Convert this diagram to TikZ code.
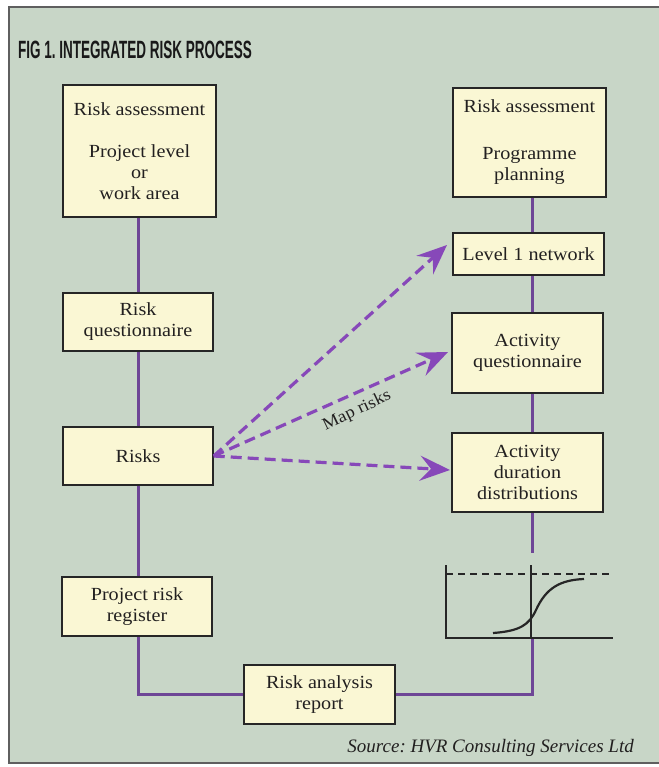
\documentclass[tikz,border=0pt]{standalone}
\usepackage{fontspec}
\setmainfont{Liberation Serif}[FakeStretch=1.09]
\newfontfamily\srcfont{Liberation Serif}
\newfontfamily\titlefont{Liberation Sans}[FakeStretch=0.54]
\usetikzlibrary{arrows.meta}
\frenchspacing
\definecolor{panelbg}{RGB}{200,214,199}
\definecolor{boxfill}{RGB}{250,247,212}
\definecolor{linepurple}{RGB}{110,70,150}
\definecolor{dashpurple}{RGB}{135,72,185}
\definecolor{textcol}{RGB}{34,32,32}
\definecolor{framecol}{RGB}{95,95,95}
\tikzset{
  procbox/.style={draw=black!85, line width=1.5pt, fill=boxfill, text=textcol,
    align=center, inner sep=0pt, font=\fontsize{18.5}{21}\selectfont},
  flowline/.style={draw=linepurple, line width=3pt},
  maparrow/.style={draw=dashpurple, line width=3.2pt, dash pattern=on 11pt off 6pt,
    -{Stealth[length=30pt,width=25pt,inset=11pt,fill=dashpurple]}},
  chartline/.style={draw=black!85, line width=1.5pt}
}
\begin{document}
\begin{tikzpicture}[x=1pt,y=-1pt]
\useasboundingbox (0,0) rectangle (658,767);
\fill[white] (0,0) rectangle (658,767);
\filldraw[fill=panelbg, draw=framecol, line width=1.2pt] (9,7) rectangle (672,763);

% title
\node[anchor=base west, inner sep=0pt, text=black!90, font=\titlefont\bfseries\fontsize{25}{28}\selectfont] (title) at (18,59) {FIG 1. INTEGRATED RISK PROCESS};

% left column
\node[procbox, minimum width=153pt, minimum height=132pt] (ra1) at (139.5,151) {Risk assessment\\[21pt]Project level\\or\\work area};
\node[procbox, minimum width=150pt, minimum height=58pt] (rq) at (138,322) {Risk\\questionnaire};
\node[procbox, minimum width=150pt, minimum height=58pt] (risks) at (138,456) {Risks};
\node[procbox, minimum width=150pt, minimum height=59pt] (prr) at (137,606.5) {Project risk\\register};
\node[procbox, minimum width=151pt, minimum height=59pt] (report) at (319.5,694.5) {Risk analysis\\report};

% right column
\node[procbox, minimum width=153pt, minimum height=109pt] (ra2) at (529.5,142.5) {Risk assessment\\[26pt]Programme\\planning};
\node[procbox, minimum width=151pt, minimum height=42pt] (l1) at (528.5,254) {Level 1 network};
\node[procbox, minimum width=151pt, minimum height=80pt] (aq) at (527.5,353) {Activity\\questionnaire};
\node[procbox, minimum width=151pt, minimum height=79pt] (ad) at (527.5,472.5) {Activity\\duration\\distributions};

% helper coordinates
\coordinate (lx) at (138,0);
\coordinate (rx) at (532,0);
\coordinate (chtop) at (532,553);
\coordinate (chbot) at (532,638);

% left flow
\draw[flowline] (ra1.south -| lx) -- (rq.north -| lx);
\draw[flowline] (rq.south -| lx) -- (risks.north -| lx);
\draw[flowline] (risks.south -| lx) -- (prr.north -| lx);
\draw[flowline] (prr.south -| lx) |- (report.west);
\draw[flowline] (report.east) -| (chbot);

% right flow
\draw[flowline] (ra2.south -| rx) -- (l1.north -| rx);
\draw[flowline] (l1.south -| rx) -- (aq.north -| rx);
\draw[flowline] (aq.south -| rx) -- (ad.north -| rx);
\draw[flowline] (ad.south -| rx) -- (chtop);

% chart
\coordinate (yaxtop) at (446,565);
\coordinate (origin) at (446,638);
\coordinate (xaxend) at (613,638);
\coordinate (vtop) at (531,565);
\coordinate (vbot) at (531,638);
\coordinate (dl) at (446,574);
\coordinate (dr) at (613,574);
\draw[chartline] (yaxtop) -- (origin) -- (xaxend);
\draw[chartline, line width=1.1pt] (vtop) -- (vbot);
\draw[chartline, line width=1.1pt, dash pattern=on 7pt off 5pt] (dl) -- (dr);
\draw[chartline, line width=2.2pt] (493,633) .. controls (520,631) and (529,625) .. (536,610) .. controls (546,588) and (560,580) .. (584,579);

% map risks arrows
\coordinate (t1) at (447,245);
\coordinate (t2) at (448,352);
\coordinate (t3) at (450,470);
\draw[maparrow] (risks.east) -- (t1);
\draw[maparrow] (risks.east) -- (t2);
\draw[maparrow] (risks.east) -- (t3);
\node[rotate=25.6, text=textcol, inner sep=0pt, font=\fontsize{17}{19}\selectfont] (maplbl) at (357,411) {Map risks};

% source
\node[anchor=base east, inner sep=0pt, text=textcol, font=\srcfont\itshape\fontsize{19}{22}\selectfont] (src) at (634,752) {Source: HVR Consulting Services Ltd};
\end{tikzpicture}
\end{document}
